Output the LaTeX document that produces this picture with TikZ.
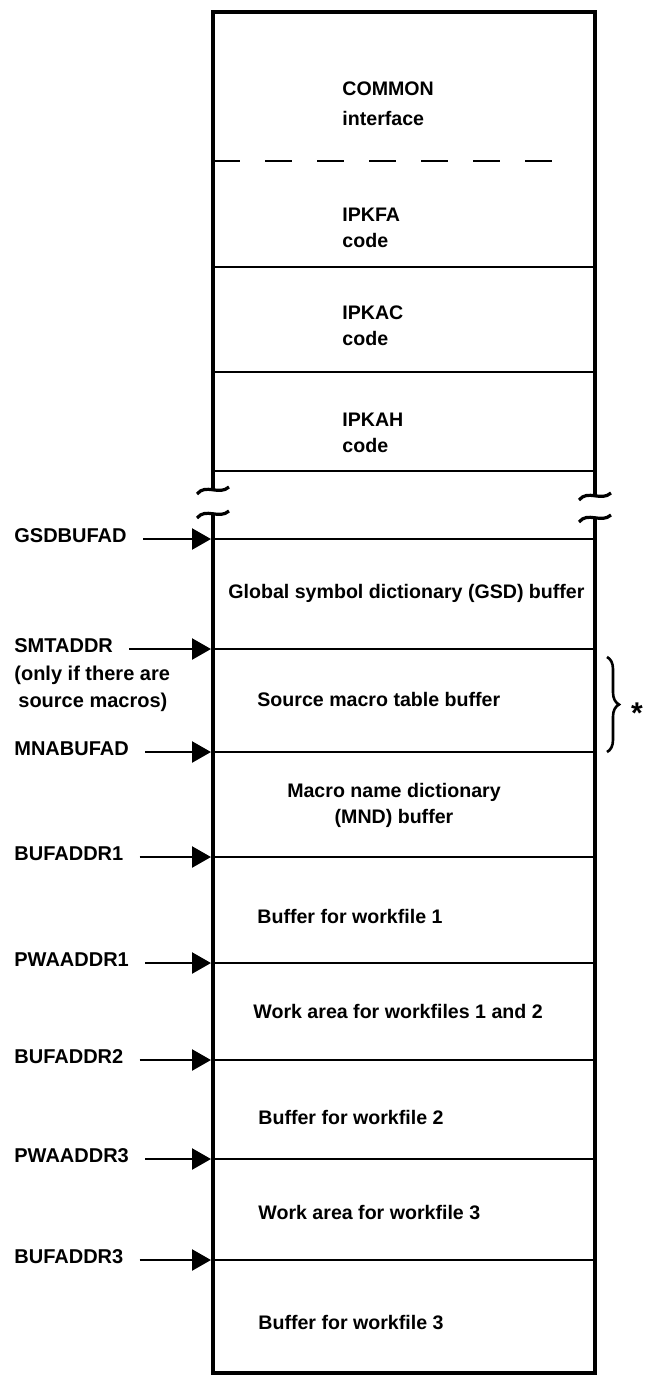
\documentclass[tikz,border=0pt]{standalone}
\usepackage{fontspec}
\setmainfont{Liberation Sans}
\usetikzlibrary{arrows.meta,positioning,decorations.pathreplacing}

\begin{document}
\begin{tikzpicture}[
      x=0.5pt, y=-0.5pt,
      frame/.style={line width=1.6pt},
      sep/.style={line width=1.4pt},
      txt/.style={anchor=west, inner sep=0pt, align=left,
                  font=\fontsize{9.8}{13}\selectfont\bfseries},
      addr/.style={anchor=west, inner sep=0pt, align=left,
                   font=\fontsize{10}{13.5}\selectfont\bfseries},
      ptr/.style={-{Triangle[length=9.5pt, width=10.5pt]}, line width=1.2pt,
                  shorten <=8pt},
      curly/.style={decorate, decoration={brace, amplitude=6pt}, line width=1.3pt}
    ]
    \useasboundingbox (0,0) rectangle (644,1375);
    % storage frame, broken below the code
    \draw[frame] (213,490) -- (213,12) -- (595,12) -- (595,496);
    \draw[frame] (213,514) -- (213,1373) -- (595,1373) -- (595,518);
    \foreach \x/\y in {213/490, 213/514, 595/496, 595/518}
      \draw[frame] (\x-16,\y+4) .. controls (\x-7,\y-7) and (\x+6,\y+6) .. (\x+16,\y-3);
    % section boundaries
    \draw[sep, dash pattern=on 13.5pt off 12.5pt] (213,161) -- (567,161);
    \foreach \y in {267,372,471,539,649,752,857,963,1060,1159,1260}
      \draw[sep] (213,\y) -- (595,\y);
    % contents
    \node[txt] (common) at (342,104) {COMMON\\[2pt]interface};
    \node[txt] (ipkfa) at (342,228) {IPKFA\\code};
    \node[txt] (ipkac) at (342,326) {IPKAC\\code};
    \node[txt] (ipkah) at (342,433) {IPKAH\\code};
    \node[txt] (gsdbuf) at (228,593) {Global symbol dictionary (GSD) buffer};
    \node[txt] (smtbuf) at (257,699) {Source macro table buffer};
    \node[txt, anchor=center, align=center] (mndbuf) at (394,805) {Macro name dictionary\\(MND) buffer};
    \node[txt] (wf1buf) at (257,916) {Buffer for workfile 1};
    \node[txt] (wa12) at (253,1011) {Work area for workfiles 1 and 2};
    \node[txt] (wf2buf) at (258,1117) {Buffer for workfile 2};
    \node[txt] (wa3) at (258,1212) {Work area for workfile 3};
    \node[txt] (wf3buf) at (258,1322) {Buffer for workfile 3};
    % address pointers
    \foreach \n/\t/\y in {gsd/GSDBUFAD/539, smt/SMTADDR/649, mna/MNABUFAD/752,
                          buf1/BUFADDR1/857, pwa1/PWAADDR1/963, buf2/BUFADDR2/1060,
                          pwa3/PWAADDR3/1159, buf3/BUFADDR3/1260} {
      \node[addr] (\n) at (14,\y-3) {\t};
      \coordinate (\n-at) at (211,\y);
      \draw[ptr] (\n.east |- \n-at) -- (\n-at);
    }
    \node[addr, below=6pt of smt.south west, anchor=north west] (smtnote)
      {(only if there are\\\hspace*{2pt}source macros)};
    % optional part
    \coordinate (brtop) at (607,657);
    \coordinate (brbot) at (607,752);
    \draw[curly] (brtop) -- (brbot);
    \node[inner sep=0pt, font=\fontsize{15}{15}\selectfont\bfseries] (star) at (637,713) {*};
  \end{tikzpicture}
\end{document}
